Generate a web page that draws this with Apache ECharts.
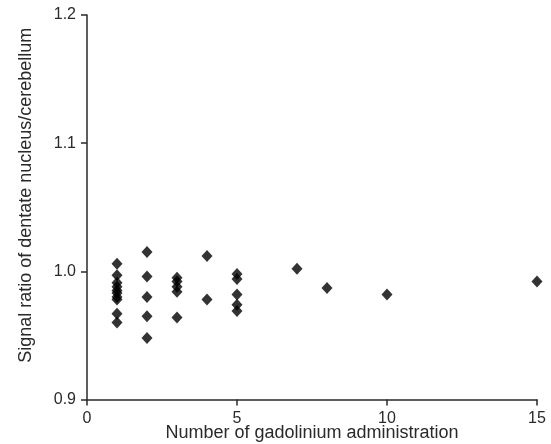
<!DOCTYPE html>
<html>
<head>
<meta charset="utf-8">
<script src="https://cdn.jsdelivr.net/npm/echarts@6/dist/echarts.min.js"></script>
<style>
  html, body { margin: 0; padding: 0; background: #fff; }
  #chart { width: 551px; height: 444px; }
</style>
</head>
<body>
<div id="chart"></div>
<script>
// number of gadolinium administrations per patient
const doses = [
  1, 1, 1, 1, 1, 1, 1, 1, 1, 1,
  2, 2, 2, 2, 2,
  3, 3, 3, 3, 3,
  4, 4,
  5, 5, 5, 5, 5,
  7, 8, 10, 15
];
// dentate nucleus / cerebellum signal ratio
const ratios = [
  1.006, 0.997, 0.991, 0.988, 0.985, 0.983, 0.980, 0.978, 0.967, 0.960,
  1.015, 0.996, 0.980, 0.965, 0.948,
  0.995, 0.992, 0.988, 0.984, 0.964,
  1.012, 0.978,
  0.998, 0.994, 0.982, 0.974, 0.969,
  1.002, 0.987, 0.982, 0.992
];
const xTicks = [0, 5, 10, 15];
const yTicks = [0.9, 1.0, 1.1, 1.2];

const points = doses.map((d, i) => [d, ratios[i]]);

const chart = echarts.init(document.getElementById("chart"));

const axisColor = "#2a2a2a";
const font = "Liberation Sans, Arial, sans-serif";

chart.setOption({
  animation: false,
  grid: {
    left: 87, right: 14, top: 15, bottom: 44.5,
    outerBoundsMode: "none",
    containLabel: false
  },
  xAxis: {
    type: "value",
    min: xTicks[0],
    max: xTicks[xTicks.length - 1],
    interval: 5,
    name: "Number of gadolinium administration",
    nameLocation: "middle",
    nameGap: 25,
    nameMoveOverlap: false,
    nameTextStyle: { color: axisColor, fontSize: 18, fontFamily: font },
    axisLine: { lineStyle: { color: axisColor, width: 1.5 } },
    axisTick: { length: 6, lineStyle: { color: axisColor, width: 1.5 } },
    axisLabel: { color: axisColor, fontSize: 16, fontFamily: font, margin: 11 },
    splitLine: { show: false }
  },
  yAxis: {
    type: "value",
    min: yTicks[0],
    max: yTicks[yTicks.length - 1],
    interval: 0.1,
    name: "Signal ratio of dentate nucleus/cerebellum",
    nameLocation: "middle",
    nameGap: 52,
    nameMoveOverlap: false,
    nameTextStyle: {
      color: axisColor, fontSize: 18, fontFamily: font,
      padding: [0, 0, 0, 24]
    },
    axisLine: { onZero: false, lineStyle: { color: axisColor, width: 1.5 } },
    axisTick: { length: 6, lineStyle: { color: axisColor, width: 1.5 } },
    axisLabel: {
      color: axisColor, fontSize: 16, fontFamily: font, margin: 11,
      formatter: v => v.toFixed(1)
    },
    splitLine: { show: false }
  },
  series: [{
    type: "scatter",
    data: points,
    symbol: "diamond",
    symbolSize: [11, 12],
    itemStyle: { color: "#000" }
  }]
});
</script>
</body>
</html>
